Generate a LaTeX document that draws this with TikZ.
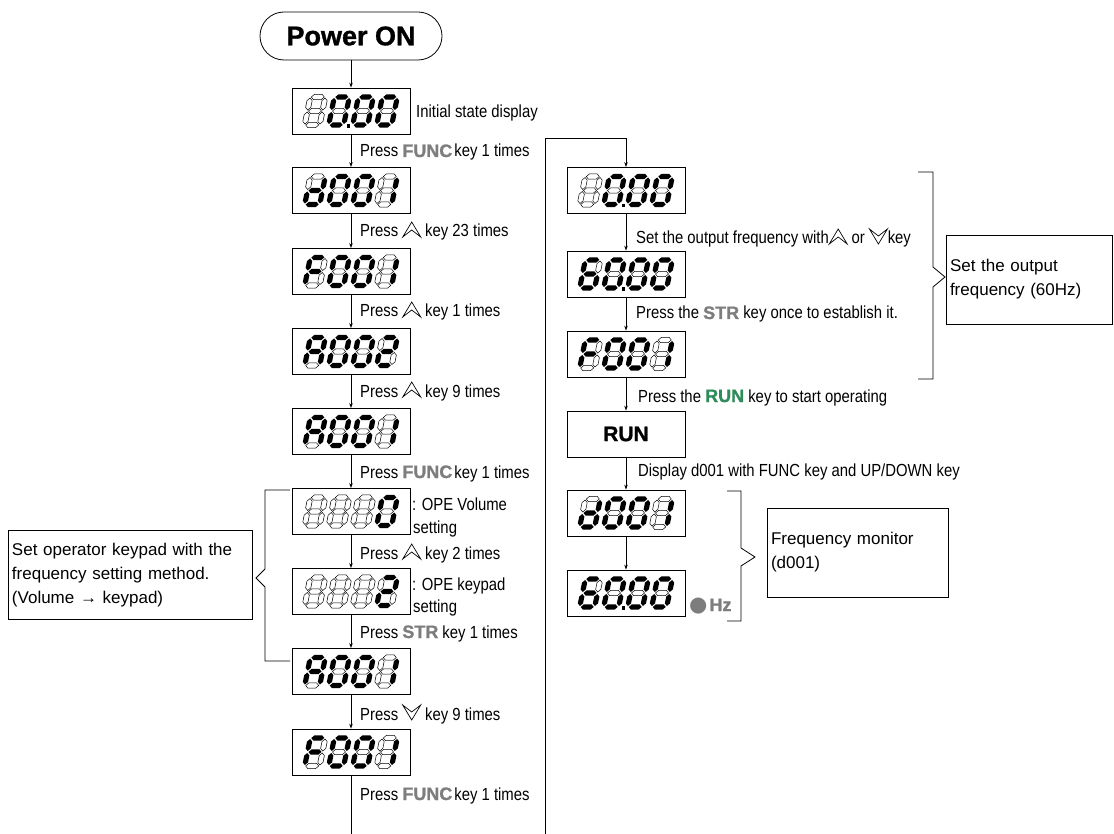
\documentclass[tikz,border=0pt]{standalone}
\usepackage{fontspec}
\setmainfont{Liberation Sans}
\newfontfamily\narrowf[FakeStretch=0.85]{Liberation Sans}
\newfontfamily\heavyf{Liberation Sans Bold}[FakeBold=1.2]
\newfontfamily\symf{DejaVu Sans}
\usetikzlibrary{arrows.meta}
\definecolor{keygray}{RGB}{125,125,125}
\definecolor{rungreen}{RGB}{46,140,90}
% key icons
\newcommand\upkey{\tikz[baseline=0pt,x=1pt,y=1pt]\draw[line width=0.7pt,line join=miter] (0,0)--(9,15)--(18,0)--(9,7)--cycle;}
\newcommand\downkey{\tikz[baseline=0pt,x=1pt,y=1pt]\draw[line width=0.7pt,line join=miter] (0,15)--(9,0)--(18,15)--(9,8)--cycle;}
\newcommand\kwg[1]{{\heavyf\fontsize{18}{20}\selectfont\color{keygray}#1}}
\newcommand\kwr[1]{{\heavyf\fontsize{18}{20}\selectfont\color{rungreen}#1}}
% seven segment digits
\newcommand\ssH[1]{(1,#1) -- (3.6,#1+2.6) -- (11.4,#1+2.6) -- (14,#1) -- (11.4,#1-2.6) -- (3.6,#1-2.6) -- cycle}
\newcommand\ssV[2]{(#1,#2+1) -- (#1+2.6,#2+3.6) -- (#1+2.6,#2+10.4) -- (#1,#2+13) -- (#1-2.6,#2+10.4) -- (#1-2.6,#2+3.6) -- cycle}
\newcommand\sseg[2]{\ifnum#1=1 \fill[black] #2;\else \draw[line width=0.5pt] #2;\fi}
\def\ssparse#1#2#3#4#5#6#7\relax{%
  \sseg{#1}{\ssH{28}}\sseg{#2}{\ssV{15}{14}}\sseg{#3}{\ssV{15}{0}}%
  \sseg{#4}{\ssH{0}}\sseg{#5}{\ssV{0}{0}}\sseg{#6}{\ssV{0}{14}}\sseg{#7}{\ssH{14}}}
\newcommand\ssdigit[3]{\begin{scope}[shift={(#1,#2)},xslant=0.2]\expandafter\ssparse#3\relax\end{scope}}
\def\dZ{1111110}\def\dOne{0110000}\def\dTwo{1101101}\def\dSix{1011111}
\def\dA{1110111}\def\dd{0111101}\def\dF{1000111}\def\dBl{0000000}
\newcommand\dispbox[8]{%
  \node[disp] (#1) at (#2,#3) {};
  \ssdigit{#2-46.3}{#3-14}{#4}\ssdigit{#2-22.3}{#3-14}{#5}%
  \ssdigit{#2+1.7}{#3-14}{#6}\ssdigit{#2+25.7}{#3-14}{#7}%
  \ifnum#8>0 \fill (#2-70.3+18+24*#8,#3-16.6) rectangle ++(3.4,3.4);\fi}
\tikzset{
  disp/.style={draw, line width=0.8pt, minimum width=118pt, minimum height=46pt, inner sep=0pt},
  arr/.style={-{Stealth[length=5pt,width=3.5pt]}, line width=0.7pt},
  plain/.style={line width=0.7pt},
  lbl/.style={anchor=base west, inner sep=0pt, font=\narrowf\fontsize{17.5}{21}\selectfont},
  txtbox/.style={draw, line width=0.7pt, align=left, inner xsep=4pt, inner ysep=2pt,
    minimum height=89pt, font=\fontsize{17}{24}\selectfont},
  brk/.style={draw=black, line width=0.8pt}
}
\begin{document}
\begin{tikzpicture}[x=1pt,y=1pt]
\useasboundingbox (0,0) rectangle (1114,-834);
% start
\node[draw, line width=0.8pt, rounded corners=24pt, minimum width=182pt, minimum height=48pt,
  font=\heavyf\fontsize{27}{30}\selectfont] (pw) at (351,-36) {Power ON};
% left column
\dispbox{b1}{351}{-111}{\dBl}{\dZ}{\dZ}{\dZ}{2}
\dispbox{b2}{351}{-190.5}{\dd}{\dZ}{\dZ}{\dOne}{0}
\dispbox{b3}{351}{-271.5}{\dF}{\dZ}{\dZ}{\dOne}{0}
\dispbox{b4}{351}{-351.5}{\dA}{\dZ}{\dZ}{\dTwo}{0}
\dispbox{b5}{351}{-431.5}{\dA}{\dZ}{\dZ}{\dOne}{0}
\dispbox{b6}{351}{-511.5}{\dBl}{\dBl}{\dBl}{\dZ}{0}
\dispbox{b7}{351}{-591.5}{\dBl}{\dBl}{\dBl}{\dTwo}{0}
\dispbox{b8}{351}{-671.5}{\dA}{\dZ}{\dZ}{\dOne}{0}
\dispbox{b9}{351}{-752}{\dF}{\dZ}{\dZ}{\dOne}{0}
% right column
\dispbox{r1}{626}{-190.5}{\dBl}{\dZ}{\dZ}{\dZ}{2}
\dispbox{r2}{626}{-274}{\dSix}{\dZ}{\dZ}{\dZ}{2}
\dispbox{r3}{626}{-354}{\dF}{\dZ}{\dZ}{\dOne}{0}
\node[disp, font=\heavyf\fontsize{21}{24}\selectfont] (run) at (626,-434) {RUN};
\dispbox{r5}{626}{-513}{\dd}{\dZ}{\dZ}{\dOne}{0}
\dispbox{r6}{626}{-593}{\dSix}{\dZ}{\dZ}{\dZ}{2}
% connectors
\draw[arr] (pw) -- (b1);
\draw[arr] (b1) -- (b2);
\draw[arr] (b2) -- (b3);
\draw[arr] (b3) -- (b4);
\draw[arr] (b4) -- (b5);
\draw[arr] (b5) -- (b6);
\draw[arr] (b6) -- (b7);
\draw[arr] (b7) -- (b8);
\draw[arr] (b8) -- (b9);
\coordinate (lend) at (351,-834);
\draw[plain] (b9) -- (lend);
\coordinate (rstart) at (545,-834);
\coordinate (rturn) at (545,-138);
\draw[arr] (rstart) -- (rturn) -| (r1);
\draw[arr] (r1) -- (r2);
\draw[arr] (r2) -- (r3);
\draw[arr] (r3) -- (run);
\draw[arr] (run) -- (r5);
\draw[arr] (r5) -- (r6);
% labels left
\node[lbl] (t0) at (416,-118) {Initial state display};
\node[lbl] (t1) at (360,-157) {Press \kwg{FUNC}\kern2pt key 1 times};
\node[lbl] (t2) at (360,-237) {Press \upkey\ key 23 times};
\node[lbl] (t3) at (360,-317) {Press \upkey\ key 1 times};
\node[lbl] (t4) at (360,-397) {Press \upkey\ key 9 times};
\node[lbl] (t5) at (360,-478) {Press \kwg{FUNC}\kern2pt key 1 times};
\node[lbl] (o1) at (412,-510) {: OPE Volume};
\node[lbl] (o2) at (413,-533) {setting};
\node[lbl] (t6) at (360,-559) {Press \upkey\ key 2 times};
\node[lbl] (o3) at (412,-590) {: OPE keypad};
\node[lbl] (o4) at (413,-612) {setting};
\node[lbl] (t7) at (360,-638) {Press \kwg{STR} key 1 times};
\node[lbl] (t8) at (360,-720) {Press \downkey\ key 9 times};
\node[lbl] (t9) at (360,-800) {Press \kwg{FUNC}\kern2pt key 1 times};
% labels right
\node[lbl] (s1) at (636,-244) {Set the output frequency with\upkey\ or \downkey key};
\node[lbl] (s2) at (636,-319) {Press the \kwg{STR} key once to establish it.};
\node[lbl] (s3) at (638,-402) {Press the \kwr{RUN} key to start operating};
\node[lbl] (s4) at (638,-476) {Display d001 with FUNC key and UP/DOWN key};
\node[anchor=base west, inner sep=0pt, text=keygray] (hz) at (689,-611)
  {{\symf\fontsize{21}{22}\selectfont ●}\kern2pt{\heavyf\fontsize{18}{20}\selectfont Hz}};
% note boxes
\node[txtbox, text width=236pt] (lb) at (130,-575)
  {Set operator keypad with the\\frequency setting method.\\(Volume → keypad)};
\node[txtbox, text width=173pt] (fm) at (857.5,-552.5) {Frequency monitor\\(d001)};
\node[txtbox, text width=158pt] (of) at (1029,-279.5) {Set the output\\frequency (60Hz)};
% brackets
\draw[brk] (290,-490) -- (265,-490) -- (265,-569) -- (256,-578) -- (265,-587) -- (265,-661) -- (290,-661);
\draw[brk] (918,-172) -- (933,-172) -- (933,-267) -- (945,-277) -- (933,-287) -- (933,-379) -- (918,-379);
\draw[brk] (727,-491) -- (741,-491) -- (741,-548) -- (755,-557) -- (741,-566) -- (741,-621) -- (727,-621);
\end{tikzpicture}
\end{document}
